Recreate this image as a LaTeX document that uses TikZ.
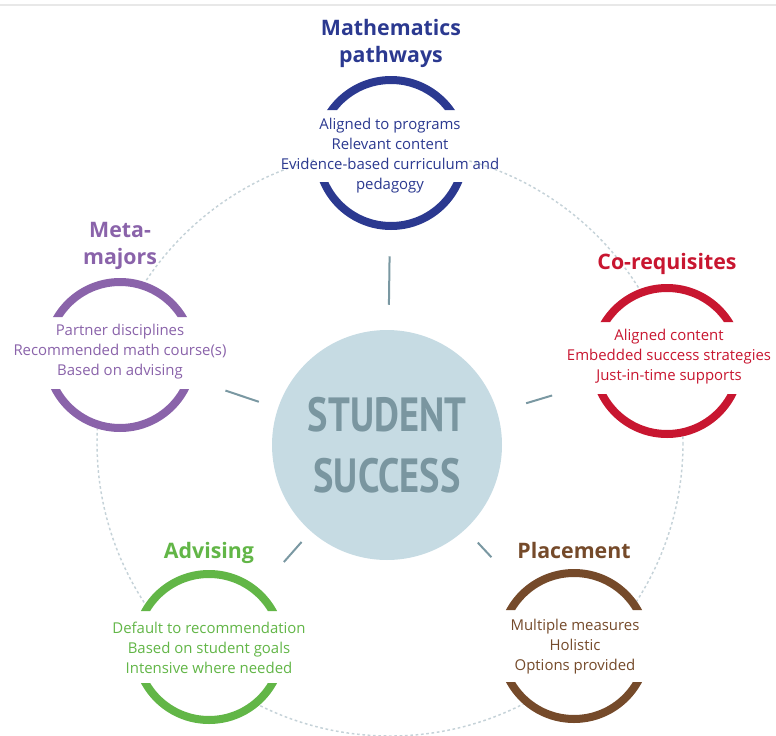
\documentclass[tikz,border=0pt]{standalone}
\usepackage{fontspec}
\setmainfont{Open Sans}
\newfontfamily\condfont[FakeStretch=0.8]{PT Sans}
\usetikzlibrary{positioning,calc}

\definecolor{mathblue}{RGB}{43,57,144}
\definecolor{metapurple}{RGB}{138,99,170}
\definecolor{coreqred}{RGB}{200,22,48}
\definecolor{advgreen}{RGB}{98,182,71}
\definecolor{placebrown}{RGB}{117,74,42}
\definecolor{ssfill}{RGB}{198,219,227}
\definecolor{sstext}{RGB}{122,150,160}
\definecolor{linkcol}{RGB}{122,152,162}
\definecolor{dashcol}{RGB}{197,210,216}
\definecolor{rulecol}{RGB}{232,232,232}

\begin{document}
\begin{tikzpicture}[x=0.75pt, y=-0.75pt,
    ring/.style={circle, fill=white, minimum size=115.5pt, inner sep=0pt},
    body/.style={align=center, inner sep=0pt, font=\fontsize{11.2}{15}\selectfont},
    title/.style={align=center, inner sep=0pt, font=\fontsize{16}{20}\selectfont\bfseries},
    core/.style={circle, fill=ssfill, minimum size=172.5pt, inner sep=0pt, align=center, text=sstext, font=\condfont\fontsize{36}{45.75}\selectfont\bfseries},
    arcline/.style={line width=6pt},
    link/.style={draw=linkcol, line width=1.5pt},
    guide/.style={draw=dashcol, line width=1.1pt, dash pattern=on 2pt off 2pt}]
    \useasboundingbox (0,0) rectangle (776,736);
    \draw[rulecol, line width=1.5pt] (0,5) -- (776,5);
    \draw[guide] (390,443) circle[radius=293];
    % nodes
    \node[core] (ss) at (387,445) {STUDENT\\SUCCESS};
    \node[ring] (math) at (391,153) {};
    \node[ring] (meta) at (120,355) {};
    \node[ring] (coreq) at (667,361) {};
    \node[ring] (adv) at (209,647) {};
    \node[ring] (place) at (574,646) {};
    % rings, open on both sides
    \foreach \nm/\col/\s in {math/mathblue/-7, meta/metapurple/-2, coreq/coreqred/-3, adv/advgreen/0, place/placebrown/0}{
        \begin{scope}
            \clip ($(\nm)+(-90,-90)$) rectangle ($(\nm)+(90,\s-36)$)
                  ($(\nm)+(-90,\s+36)$) rectangle ($(\nm)+(90,90)$);
            \draw[arcline, \col] (\nm) circle[radius=73];
        \end{scope}
    }
    % texts
    \node[body, text=mathblue] (mathtxt) at (390,156) {Aligned to programs\\Relevant content\\Evidence-based curriculum and\\pedagogy};
    \node[body, text=metapurple] (metatxt) at (120,352) {Partner disciplines\\Recommended math course(s)\\Based on advising};
    \node[body, text=coreqred] (coreqtxt) at (669,357) {Aligned content\\Embedded success strategies\\Just-in-time supports};
    \node[body, text=advgreen] (advtxt) at (209,648) {Default to recommendation\\Based on student goals\\Intensive where needed};
    \node[body, text=placebrown] (placetxt) at (575,647) {Multiple measures\\Holistic\\Options provided};
    \node[title, text=mathblue, above=6pt of math] (mathtitle) {Mathematics\\pathways};
    \node[title, text=metapurple, above=6pt of meta] (metatitle) {Meta-\\majors};
    \node[title, text=coreqred, above=7pt of coreq] (coreqtitle) {Co-requisites};
    \node[title, text=advgreen, above=4.5pt of adv] (advtitle) {Advising};
    \node[title, text=placebrown, above=7pt of place] (placetitle) {Placement};
    % edges
    \draw[link, shorten <=18.75pt, shorten >=19.5pt] (ss) -- (math);
    \draw[link, shorten <=15pt, shorten >=25.5pt] (ss) -- (meta);
    \draw[link, shorten <=22.5pt, shorten >=32pt] (ss) -- (coreq);
    \draw[link, shorten <=10.5pt, shorten >=27pt] (ss) -- (adv);
    \draw[link, shorten <=13.5pt, shorten >=33pt] (ss) -- (place);
\end{tikzpicture}
\end{document}
